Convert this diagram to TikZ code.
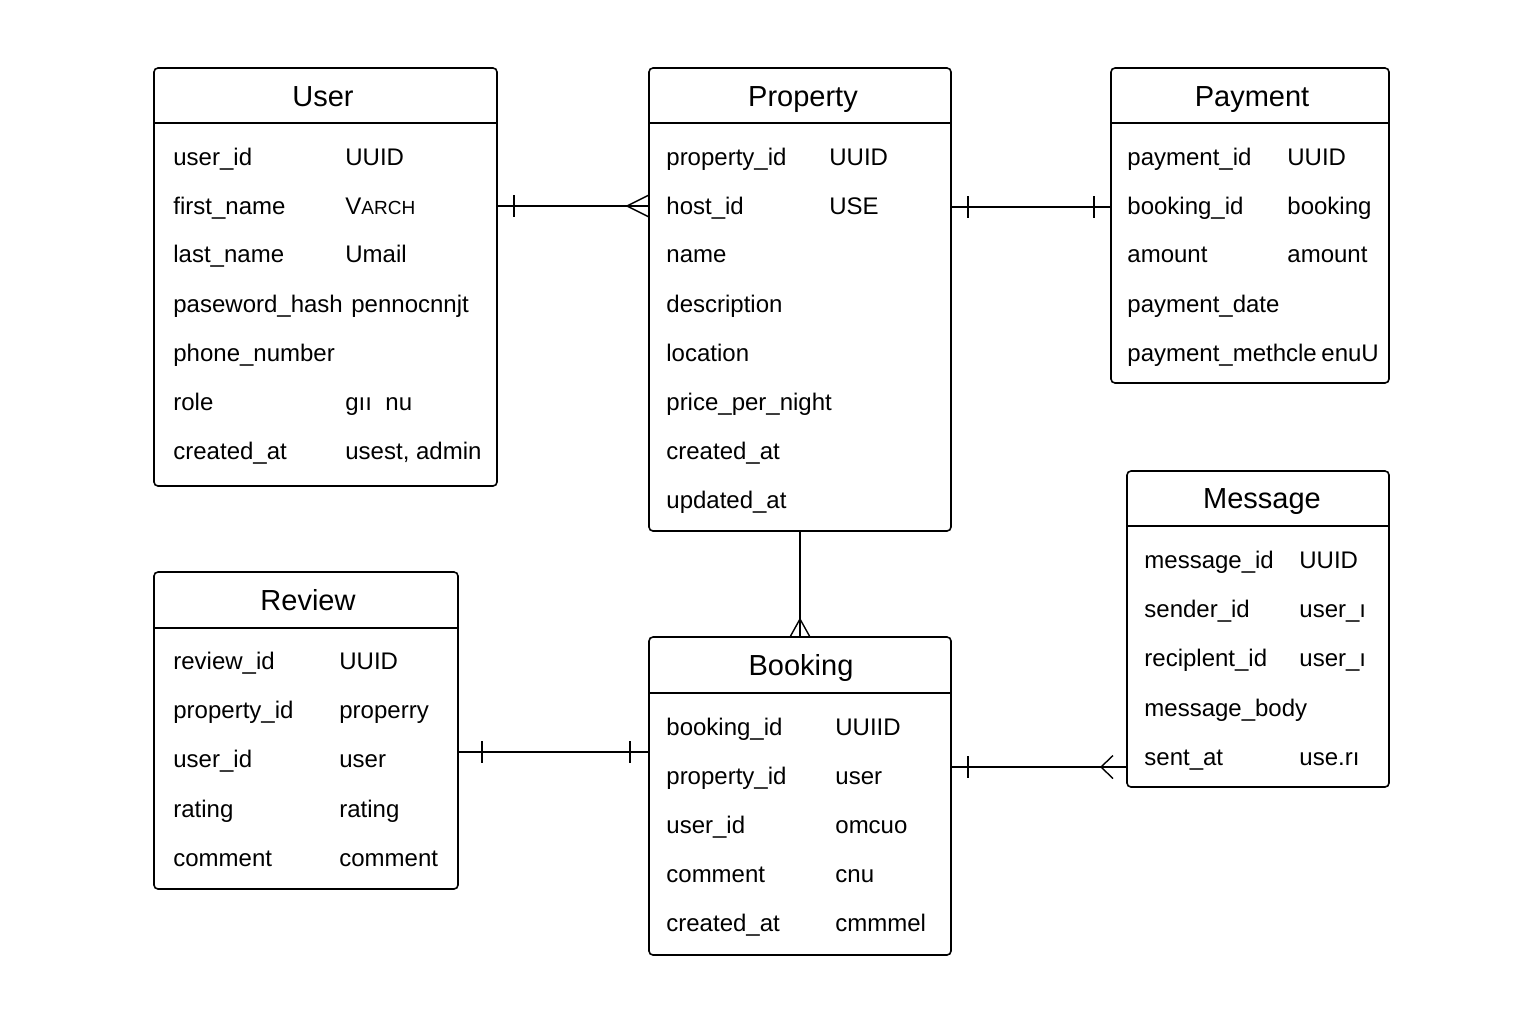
\documentclass[tikz,border=0pt]{standalone}
\usepackage{fontspec}
\setmainfont{Liberation Sans}
\usepackage{xcolor}
\usepackage{tikz}

\tikzset{
    tbl/.style={draw=black, line width=0.8pt, rounded corners=2pt, inner sep=0pt, outer sep=0pt},
    ttl/.style={anchor=base, inner sep=0pt, font=\fontsize{14.5}{17}\selectfont},
    fld/.style={anchor=base west, inner sep=0pt, font=\fontsize{12}{14}\selectfont},
    rel/.style={black, line width=0.7pt},
}

\begin{document}
\begin{tikzpicture}[x=0.5pt,y=-0.5pt]
                \useasboundingbox (0,0) rectangle (1536,1024);

                % User table
                \node[tbl, minimum width=171.5pt, minimum height=209pt] (user) at (325.5, 277) {};
                \draw[line width=0.8pt] (user.west |- 0,123) -- (user.east |- 0,123);
                \node[ttl] (usert) at (323, 106) {User};
                \node[fld] (ua1) at (173, 165) {user\_id};
                \node[fld] (ut1) at (345, 165) {UUID};
                \node[fld] (ua2) at (173, 214) {first\_name};
                \node[fld] (ut2) at (345, 214) {V{\fontsize{9.5}{12}\selectfont ARCH}};
                \node[fld] (ua3) at (173, 262) {last\_name};
                \node[fld] (ut3) at (345, 262) {Umail};
                \node[fld] (ua4) at (173, 312) {paseword\_hash};
                \node[fld] (ut4) at (351, 312) {pennocnnjt};
                \node[fld] (ua5) at (173, 361) {phone\_number};
                \node[fld] (ua6) at (173, 410) {role};
                \node[fld] (ut6) at (345, 410) {gıı\ \ nu};
                \node[fld] (ua7) at (173, 459) {created\_at};
                \node[fld] (ut7) at (345, 459) {usest, admin};

                % Property table
                \node[tbl, minimum width=151pt, minimum height=231.5pt] (prop) at (800, 299.5) {};
                \draw[line width=0.8pt] (prop.west |- 0,123) -- (prop.east |- 0,123);
                \node[ttl] (propt) at (803, 106) {Property};
                \node[fld] (pa1) at (666, 165) {property\_id};
                \node[fld] (pt1) at (829, 165) {UUID};
                \node[fld] (pa2) at (666, 214) {host\_id};
                \node[fld] (pt2) at (829, 214) {USE};
                \node[fld] (pa3) at (666, 262) {name};
                \node[fld] (pa4) at (666, 312) {description};
                \node[fld] (pa5) at (666, 361) {location};
                \node[fld] (pa6) at (666, 410) {price\_per\_night};
                \node[fld] (pa7) at (666, 459) {created\_at};
                \node[fld] (pa8) at (666, 508) {updated\_at};

                % Payment table
                \node[tbl, minimum width=139pt, minimum height=157.5pt] (pay) at (1250, 225.5) {};
                \draw[line width=0.8pt] (pay.west |- 0,123) -- (pay.east |- 0,123);
                \node[ttl] (payt) at (1252, 106) {Payment};
                \node[fld] (ya1) at (1127, 165) {payment\_id};
                \node[fld] (yt1) at (1287, 165) {UUID};
                \node[fld] (ya2) at (1127, 214) {booking\_id};
                \node[fld] (yt2) at (1287, 214) {booking};
                \node[fld] (ya3) at (1127, 262) {amount};
                \node[fld] (yt3) at (1287, 262) {amount};
                \node[fld] (ya4) at (1127, 312) {payment\_date};
                \node[fld] (ya5) at (1127, 361) {payment\_methcle};
                \node[fld] (yt5) at (1321, 361) {enuU};

                % Message table
                \node[tbl, minimum width=131pt, minimum height=158pt] (msg) at (1258, 629) {};
                \draw[line width=0.8pt] (msg.west |- 0,526) -- (msg.east |- 0,526);
                \node[ttl] (msgt) at (1262, 508) {Message};
                \node[fld] (ma1) at (1144, 568) {message\_id};
                \node[fld] (mt1) at (1299, 568) {UUID};
                \node[fld] (ma2) at (1144, 617) {sender\_id};
                \node[fld] (mt2) at (1299, 617) {user\_ı};
                \node[fld] (ma3) at (1144, 666) {reciplent\_id};
                \node[fld] (mt3) at (1299, 666) {user\_ı};
                \node[fld] (ma4) at (1144, 716) {message\_body};
                \node[fld] (ma5) at (1144, 765) {sent\_at};
                \node[fld] (mt5) at (1299, 765) {use.rı};

                % Review table
                \node[tbl, minimum width=152pt, minimum height=158.5pt] (rev) at (306, 730.5) {};
                \draw[line width=0.8pt] (rev.west |- 0,628) -- (rev.east |- 0,628);
                \node[ttl] (revt) at (308, 610) {Review};
                \node[fld] (ra1) at (173, 669) {review\_id};
                \node[fld] (rt1) at (339, 669) {UUID};
                \node[fld] (ra2) at (173, 718) {property\_id};
                \node[fld] (rt2) at (339, 718) {properry};
                \node[fld] (ra3) at (173, 767) {user\_id};
                \node[fld] (rt3) at (339, 767) {user};
                \node[fld] (ra4) at (173, 817) {rating};
                \node[fld] (rt4) at (339, 817) {rating};
                \node[fld] (ra5) at (173, 866) {comment};
                \node[fld] (rt5) at (339, 866) {comment};

                % Booking table
                \node[tbl, minimum width=151pt, minimum height=159pt] (book) at (800, 796) {};
                \draw[line width=0.8pt] (book.west |- 0,693) -- (book.east |- 0,693);
                \node[ttl] (bookt) at (801, 675) {Booking};
                \node[fld] (ba1) at (666, 735) {booking\_id};
                \node[fld] (bt1) at (835, 735) {UUIID};
                \node[fld] (ba2) at (666, 784) {property\_id};
                \node[fld] (bt2) at (835, 784) {user};
                \node[fld] (ba3) at (666, 833) {user\_id};
                \node[fld] (bt3) at (835, 833) {omcuo};
                \node[fld] (ba4) at (666, 882) {comment};
                \node[fld] (bt4) at (835, 882) {cnu};
                \node[fld] (ba5) at (666, 931) {created\_at};
                \node[fld] (bt5) at (835, 931) {cmmmel};

                % User -- Property (one to many)
                \coordinate (up) at (user.east |- 0,206);
                \coordinate (pu) at (prop.west |- 0,206);
                \draw[rel] (up) -- (pu);
                \draw[rel] ([xshift=8.5pt]up) ++(0,-11) -- ++(0,22);
                \draw[rel] ([yshift=5.5pt]pu) -- ([xshift=-11pt]pu) -- ([yshift=-5.5pt]pu);

                % Property -- Payment (one to one)
                \coordinate (py) at (prop.east |- 0,207);
                \coordinate (yp) at (pay.west |- 0,207);
                \draw[rel] (py) -- (yp);
                \draw[rel] ([xshift=8.5pt]py) ++(0,-11) -- ++(0,22);
                \draw[rel] ([xshift=-8.5pt]yp) ++(0,-11) -- ++(0,22);

                % Property -- Booking (one to many)
                \draw[rel] (prop.south) -- (book.north);
                \draw[rel] ([xshift=-5pt]book.north) -- ([yshift=9pt]book.north) -- ([xshift=5pt]book.north);

                % Review -- Booking (one to one)
                \coordinate (rb) at (rev.east |- 0,752);
                \coordinate (br) at (book.west |- 0,752);
                \draw[rel] (rb) -- (br);
                \draw[rel] ([xshift=12pt]rb) ++(0,-11) -- ++(0,22);
                \draw[rel] ([xshift=-9.5pt]br) ++(0,-11) -- ++(0,22);

                % Booking -- Message (one to many)
                \coordinate (bm) at (book.east |- 0,767);
                \coordinate (mb) at (msg.west |- 0,767);
                \draw[rel] (bm) -- (mb);
                \draw[rel] ([xshift=8.5pt]bm) ++(0,-11) -- ++(0,22);
                \draw[rel] ([xshift=-7pt, yshift=5.75pt]mb) -- ([xshift=-13pt]mb) -- ([xshift=-7pt, yshift=-5.75pt]mb);
            \end{tikzpicture}
\end{document}
